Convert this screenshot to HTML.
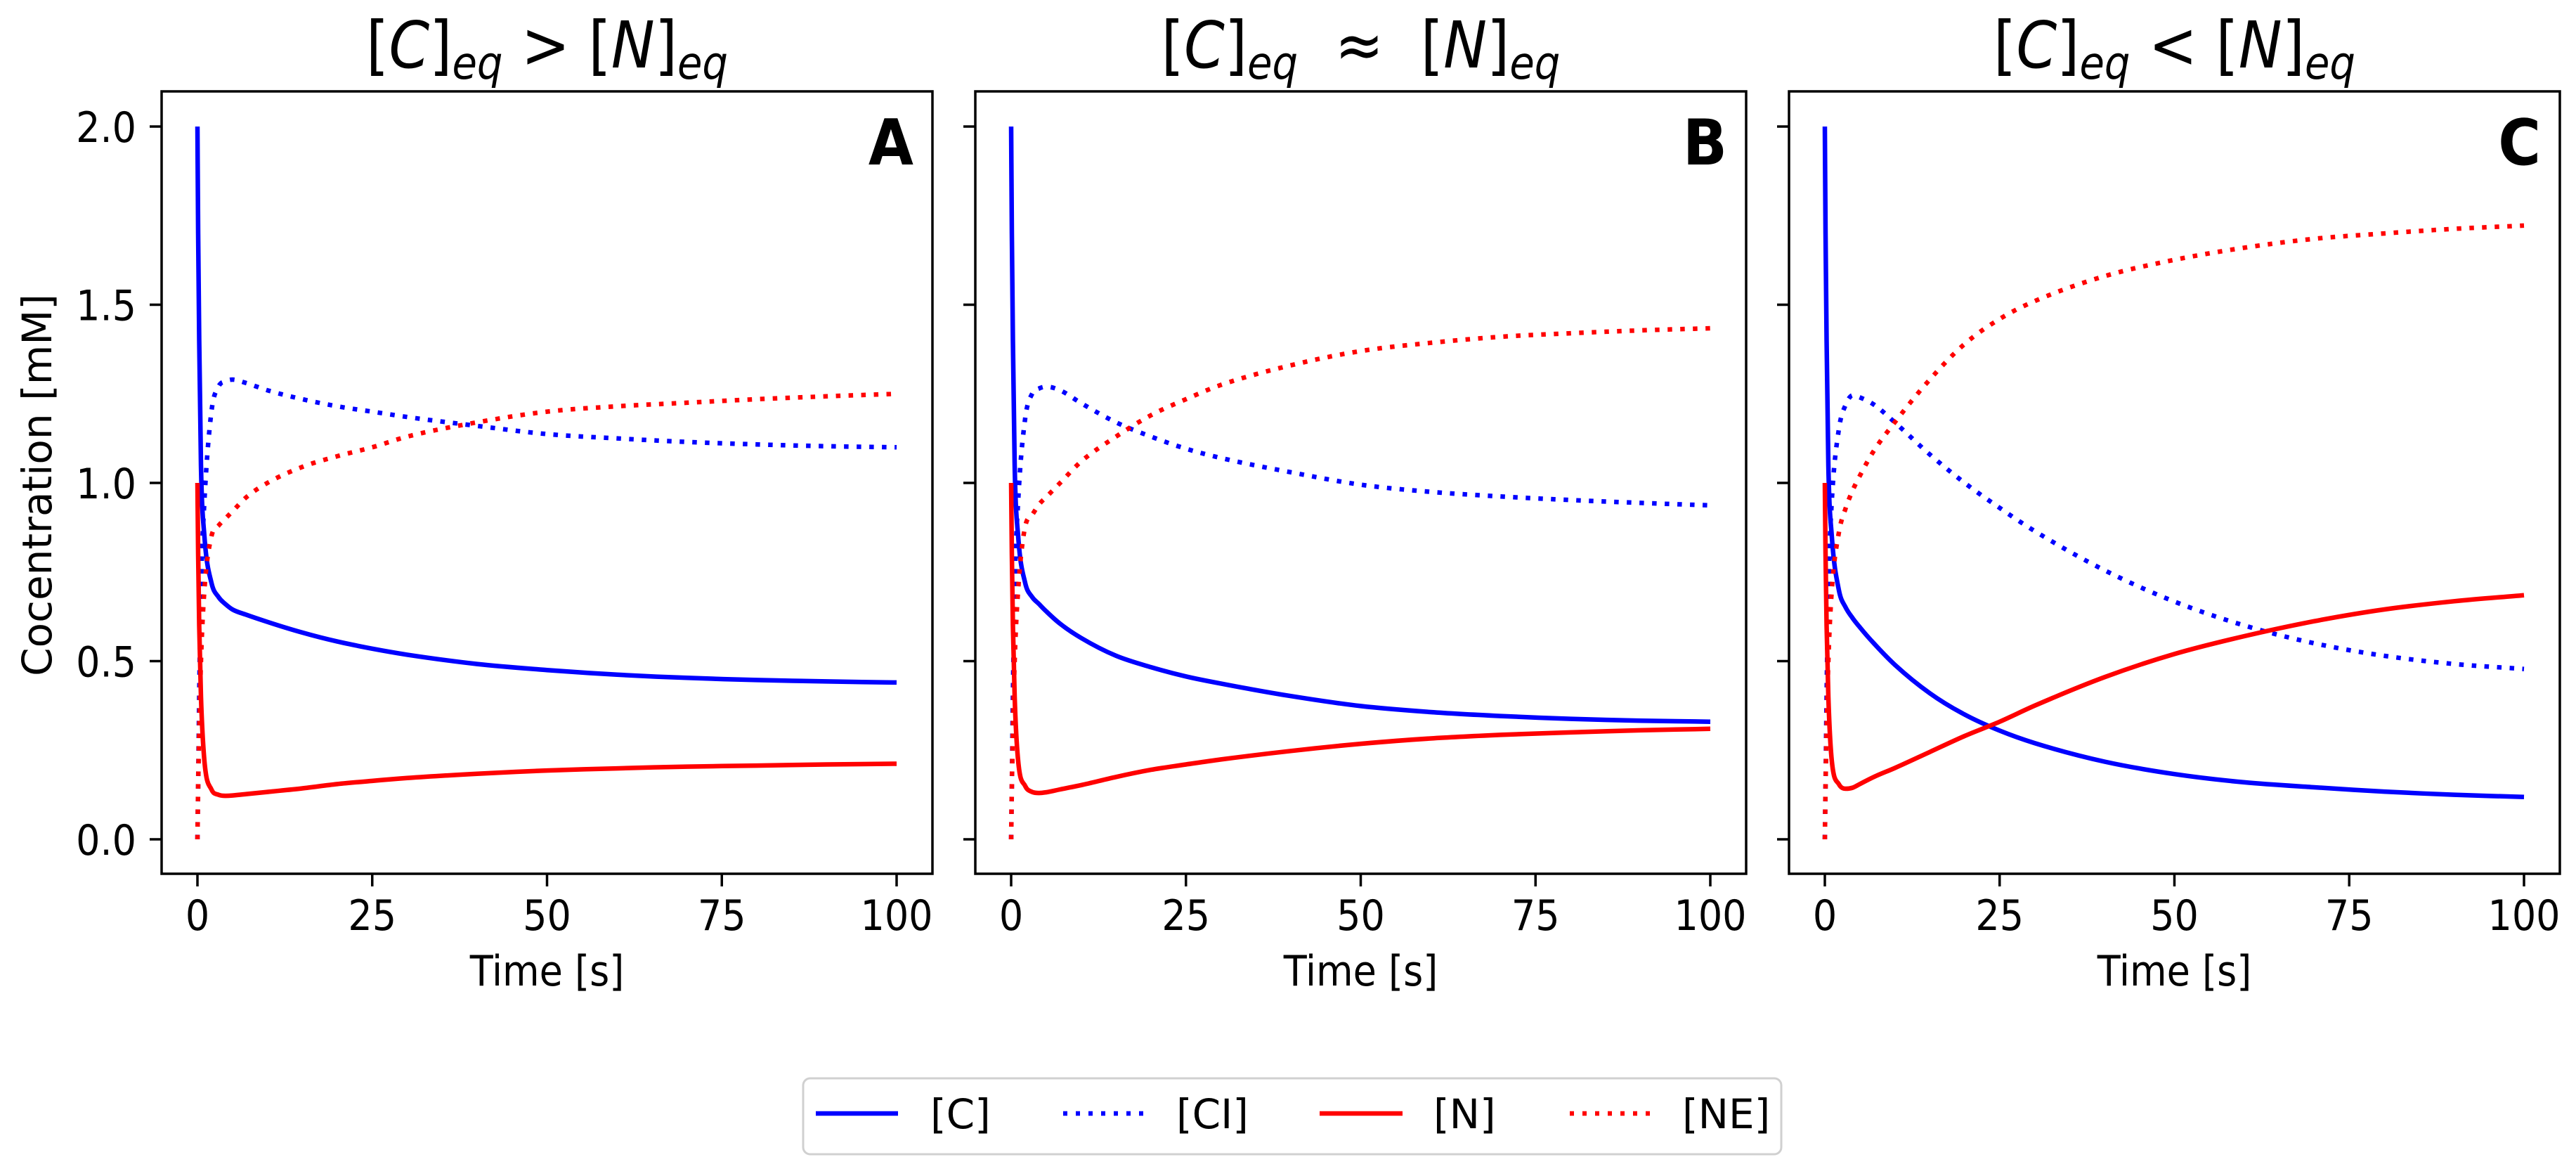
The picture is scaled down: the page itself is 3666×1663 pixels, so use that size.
<!DOCTYPE html>
<html><head><meta charset="utf-8">
<style>
html,body{margin:0;padding:0;background:#fff;}
svg{display:block;}
text{font-family:"DejaVu Sans","Liberation Sans",sans-serif;fill:#000;}
</style></head>
<body>
<svg id="fig" width="3666" height="1663" viewBox="0 0 3666 1663" xmlns="http://www.w3.org/2000/svg">
<rect x="0" y="0" width="3666" height="1663" fill="#fff"/>
<g id="plots"></g>
<g>
  <rect x="1143" y="1534" width="1392" height="108" rx="10" fill="#fff" stroke="#d0d0d0" stroke-width="3"/>
  <g>
    <line x1="1161" y1="1584" x2="1278" y2="1584" stroke="#0000ff" stroke-width="6.5"/>
    <text x="1324" y="1605" font-size="58">[C]</text>
  </g>
  <g>
    <line x1="1513" y1="1584" x2="1627" y2="1584" stroke="#0000ff" stroke-width="6.5" stroke-dasharray="6 12"/>
    <text x="1674" y="1605" font-size="58">[CI]</text>
  </g>
  <g>
    <line x1="1878" y1="1584" x2="1996" y2="1584" stroke="#ff0000" stroke-width="6.5"/>
    <text x="2040" y="1605" font-size="58">[N]</text>
  </g>
  <g>
    <line x1="2234" y1="1584" x2="2350" y2="1584" stroke="#ff0000" stroke-width="6.5" stroke-dasharray="6 12"/>
    <text x="2394" y="1605" font-size="58">[NE]</text>
  </g>
</g>
</svg>
<script>
const times = [0,0.1,0.25,0.5,1,2,3,4,5,7,10,15,20,25,30,40,50,60,70,80,90,100];
const xTicks = [0,25,50,75,100];
const yTicks = [0.0,0.5,1.0,1.5,2.0];
const yTickLabels = ["0.0","0.5","1.0","1.5","2.0"];
const panelLetters = ["A","B","C"];
const titleOps = [" > ","  \u2248  "," < "];
const cA = [2.0,1.7,1.4,1.05,0.85,0.72,0.68,0.66,0.645,0.63,0.61,0.58,0.555,0.535,0.518,0.492,0.475,0.462,0.453,0.447,0.443,0.44];
const ciA = [0,0.15,0.4,0.7,0.95,1.2,1.27,1.285,1.29,1.28,1.26,1.235,1.215,1.2,1.185,1.16,1.137,1.125,1.115,1.108,1.103,1.1];
const nA = [1.0,0.8,0.6,0.4,0.22,0.14,0.125,0.122,0.123,0.127,0.133,0.143,0.155,0.164,0.172,0.184,0.193,0.199,0.204,0.207,0.21,0.212];
const neA = [0,0.15,0.3,0.5,0.7,0.85,0.88,0.9,0.92,0.96,1.0,1.045,1.075,1.1,1.13,1.17,1.2,1.215,1.225,1.235,1.243,1.25];
const cB = [2.0,1.7,1.4,1.05,0.85,0.72,0.68,0.66,0.64,0.605,0.565,0.515,0.483,0.457,0.437,0.402,0.374,0.357,0.346,0.338,0.333,0.33];
const ciB = [0,0.15,0.4,0.7,0.95,1.18,1.25,1.265,1.27,1.26,1.224,1.17,1.13,1.096,1.07,1.03,0.995,0.975,0.962,0.952,0.944,0.937];
const nB = [1.0,0.8,0.6,0.4,0.22,0.15,0.133,0.13,0.132,0.14,0.152,0.175,0.195,0.21,0.224,0.248,0.268,0.283,0.293,0.3,0.306,0.31];
const neB = [0,0.15,0.3,0.5,0.7,0.877,0.91,0.94,0.96,1.0,1.06,1.13,1.19,1.235,1.275,1.33,1.37,1.393,1.41,1.42,1.428,1.434];
const cC = [2.0,1.7,1.4,1.05,0.85,0.7,0.65,0.62,0.595,0.55,0.49,0.41,0.35,0.305,0.27,0.218,0.183,0.16,0.146,0.134,0.125,0.119];
const ciC = [0,0.15,0.4,0.7,0.95,1.15,1.22,1.246,1.24,1.22,1.17,1.08,1.0,0.93,0.865,0.755,0.667,0.6,0.55,0.515,0.492,0.478];
const nC = [1.0,0.8,0.6,0.4,0.22,0.155,0.142,0.145,0.155,0.175,0.2,0.245,0.29,0.33,0.375,0.455,0.52,0.57,0.612,0.645,0.668,0.685];
const neC = [0,0.15,0.3,0.5,0.7,0.86,0.93,0.98,1.02,1.09,1.17,1.29,1.39,1.46,1.51,1.58,1.626,1.66,1.685,1.7,1.713,1.722];

const seriesSets = [[cA,ciA,nA,neA],[cB,ciB,nB,neB],[cC,ciC,nC,neC]];
const seriesNames = ["c","ci","n","ne"];
const seriesColors = ["#0000ff","#0000ff","#ff0000","#ff0000"];
const seriesDotted = [false,true,false,true];

const NS = "http://www.w3.org/2000/svg";
const root = document.getElementById("plots");
const panelLefts = [230,1388,2546];
const PW = 1097, PT = 130, PB = 1243;
function mk(tag, attrs, parent){
  const e = document.createElementNS(NS, tag);
  for (const k in attrs) e.setAttribute(k, attrs[k]);
  parent.appendChild(e);
  return e;
}
function yScale(v){ return 1194 - v * 507; }
// monotone cubic (Fritsch-Carlson) path
function smoothPath(P){
  const n = P.length;
  const d = [], m = [];
  for (let i = 0; i < n - 1; i++) d.push((P[i+1][1] - P[i][1]) / (P[i+1][0] - P[i][0]));
  m.push(d[0]);
  for (let i = 1; i < n - 1; i++) m.push(d[i-1] * d[i] <= 0 ? 0 : (d[i-1] + d[i]) / 2);
  m.push(d[n-2]);
  for (let i = 0; i < n - 1; i++) {
    if (d[i] === 0) { m[i] = 0; m[i+1] = 0; continue; }
    const a = m[i] / d[i], b = m[i+1] / d[i], s = a*a + b*b;
    if (s > 9) { const t = 3 / Math.sqrt(s); m[i] = t*a*d[i]; m[i+1] = t*b*d[i]; }
  }
  let s = "M" + P[0][0].toFixed(1) + "," + P[0][1].toFixed(1);
  for (let i = 0; i < n - 1; i++) {
    const h = (P[i+1][0] - P[i][0]) / 3;
    s += " C" + (P[i][0]+h).toFixed(1) + "," + (P[i][1]+m[i]*h).toFixed(1) + " " +
         (P[i+1][0]-h).toFixed(1) + "," + (P[i+1][1]-m[i+1]*h).toFixed(1) + " " +
         P[i+1][0].toFixed(1) + "," + P[i+1][1].toFixed(1);
  }
  return s;
}

panelLetters.forEach((letter, p) => {
  const L = panelLefts[p];
  const xScale = t => L + 51 + t * 9.95;
  const g = mk("g", {}, root);
  
  
  const cx = L + PW / 2;

  const title = mk("text", {x: 0, y: 0, "font-size": 92, "text-anchor": "middle", transform: "translate(" + cx + ",96) scale(0.9,1)"}, g);
  
  
  title.setAttribute("xml:space", "preserve");
  title.style.whiteSpace = "pre";
  const parts = [["[",""],["C","i"],["]",""],["eq","s"],[titleOps[p],"u"],["[",""],["N","i"],["]",""],["eq","s"]];
  parts.forEach(pt => {
    const ts = mk("tspan", {}, title);
    ts.textContent = pt[0];
    if (pt[1] === "i") ts.setAttribute("font-style", "italic");
    if (pt[1] === "s") { ts.setAttribute("font-style", "italic"); ts.setAttribute("font-size", "64"); ts.setAttribute("dy", "16"); }
    if (pt[1] === "u") ts.setAttribute("dy", "-16");
  });

  const clipId = "clip" + p;
  const cp = mk("clipPath", {id: clipId}, g);
  mk("rect", {x: L, y: PT, width: PW, height: PB - PT}, cp);

  seriesSets[p].forEach((vals, s) => {
    const P = times.map((t, i) => [xScale(t), yScale(vals[i])]);
    const pl = mk("path", {d: smoothPath(P), fill: "none", stroke: seriesColors[s], "stroke-width": 6.5, "stroke-linejoin": "round", "clip-path": "url(#" + clipId + ")"}, g);
    if (seriesDotted[s]) pl.setAttribute("stroke-dasharray", "6.5 11.5");
    
    
  });

  const fr = mk("rect", {x: L, y: PT, width: PW, height: PB - PT, fill: "none", stroke: "#000", "stroke-width": 3.5}, g);
  
  

  yTicks.forEach((v, i) => {
    const y = yScale(v);
    mk("line", {x1: L - 17, y1: y, x2: L, y2: y, stroke: "#000", "stroke-width": 3.5}, g);
    if (p === 0) {
      const t = mk("text", {x: 0, y: 0, "font-size": 60, "text-anchor": "end", transform: "translate(" + (L - 36) + "," + (y + 22) + ") scale(0.9,1)"}, g);
      t.textContent = yTickLabels[i];
      
      
    }
  });
  xTicks.forEach(v => {
    const x = xScale(v);
    mk("line", {x1: x, y1: PB, x2: x, y2: PB + 18, stroke: "#000", "stroke-width": 3.5}, g);
    const t = mk("text", {x: 0, y: 0, "font-size": 60, "text-anchor": "middle", transform: "translate(" + x + ",1323) scale(0.9,1)"}, g);
    t.textContent = String(v);
    
    
  });
  const xl = mk("text", {x: 0, y: 0, "font-size": 60, "text-anchor": "middle", transform: "translate(" + cx + ",1402) scale(0.9,1)"}, g);
  xl.textContent = "Time [s]";
  
  
  const pl = mk("text", {x: 0, y: 0, "font-size": 90, "font-weight": "bold", "text-anchor": "end", transform: "translate(" + (L + 1070) + ",234) scale(0.92,1)"}, g);
  pl.textContent = letter;
  
  
});

const yl = mk("text", {x: 0, y: 0, "font-size": 58, "text-anchor": "middle", transform: "translate(73,690) rotate(-90)"}, root);
yl.textContent = "Cocentration [mM]";


</script>
</body></html>
